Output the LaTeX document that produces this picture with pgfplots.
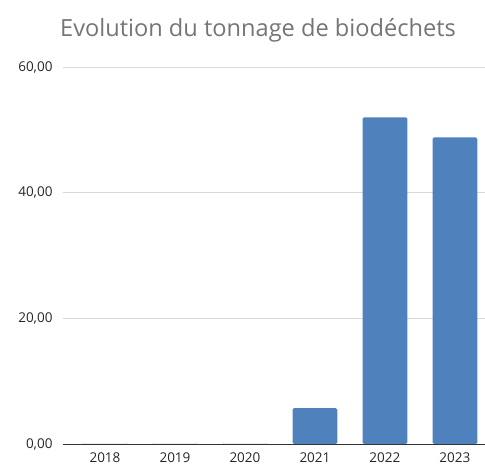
\documentclass[border=0pt]{standalone}
\usepackage{pgfplots}
\pgfplotsset{compat=1.18}
\usepackage{fontspec}
\setmainfont{Open Sans}
\definecolor{barblue}{RGB}{79,129,189}
\definecolor{gridgray}{RGB}{217,217,217}
\definecolor{titlegray}{RGB}{117,117,117}
\begin{document}
\begin{tikzpicture}[x=1pt,y=1pt]
\path[use as bounding box] (0,0) rectangle (485,465);
\begin{axis}[
  at={(63pt,21pt)}, anchor=south west,
  scale only axis, width=422pt, height=377pt,
  xmin=-0.6, xmax=5.43, ymin=0, ymax=60,
  ytick={0,20,40,60},
  xtick={0,1,2,3,4,5},
  xticklabels={2018,2019,2020,2021,2022,2023},
  axis x line*=bottom, axis y line*=left,
  y axis line style={draw=none},
  ymajorgrids, grid style={gridgray, line width=0.8pt},
  major tick length=0pt,
  tick style={draw=none},
  x axis line style={draw=black!80, line width=0.8pt, -},
  ticklabel style={font=\fontsize{13.5}{16}\selectfont, text=black!85},
  yticklabel style={xshift=-7pt},
  xticklabel style={yshift=-5pt},
  /pgf/number format/.cd, fixed, fixed zerofill, precision=2, use comma, assume math mode=true,
]
\addplot[ybar, bar width=0.64, fill=barblue, draw=none, rounded corners=1.5pt] coordinates {(0,0) (1,0) (2,0) (3,5.7) (4,52.0) (5,48.8)};
\end{axis}
\node[anchor=base, text=titlegray, font=\fontsize{23.6}{28}\selectfont] at (258,428) {Evolution du tonnage de biodéchets};
\end{tikzpicture}
\end{document}
